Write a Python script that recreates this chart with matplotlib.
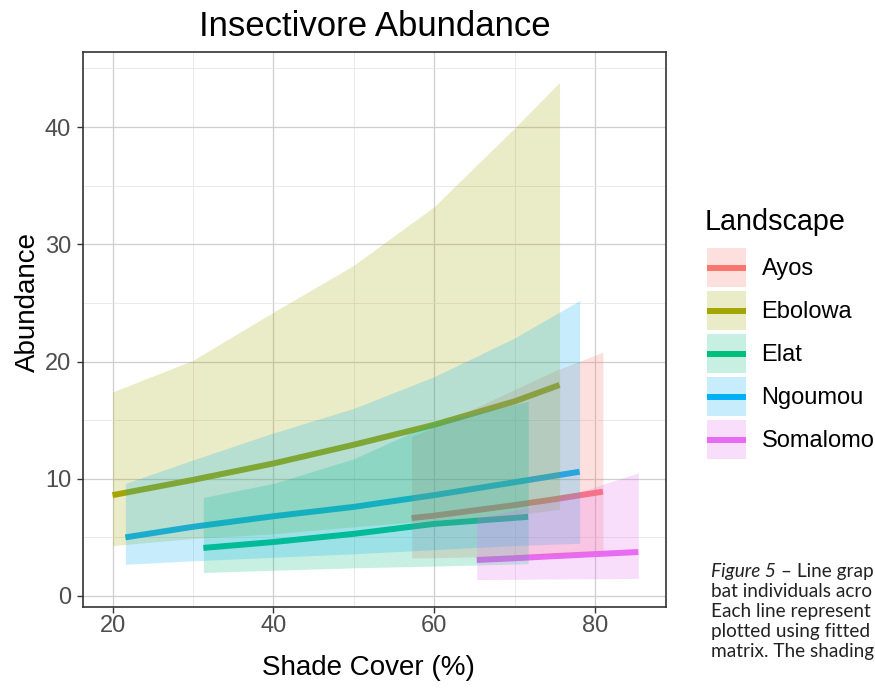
import matplotlib
matplotlib.use("Agg")
import matplotlib.pyplot as plt
from matplotlib.lines import Line2D
from matplotlib.patches import Rectangle
from matplotlib.legend_handler import HandlerBase
from matplotlib.ticker import MultipleLocator

plt.rcParams['font.family'] = ['Liberation Sans', 'DejaVu Sans']

landscapes = ['Ayos', 'Ebolowa', 'Elat', 'Ngoumou', 'Somalomo']
colours = ['#F8766D', '#A3A500', '#00BF7D', '#00B0F6', '#E76BF3']

# shade cover (%), fitted abundance and the lower / upper bounds of the shading
ayos_x = [57.2, 60, 65, 70, 75, 81.0]
ayos_fit = [6.65, 6.85, 7.3, 7.75, 8.25, 8.9]
ayos_lo = [3.25, 3.26, 3.33, 3.41, 3.54, 3.81]
ayos_hi = [13.6, 14.4, 16.0, 17.6, 19.2, 20.8]

ebolowa_x = [20, 30, 40, 50, 60, 70, 75.6]
ebolowa_fit = [8.6, 9.9, 11.3, 12.9, 14.6, 16.6, 18.0]
ebolowa_lo = [4.3, 4.9, 5.3, 5.9, 6.45, 6.9, 7.4]
ebolowa_hi = [17.4, 20.1, 24.2, 28.2, 33.2, 39.9, 43.8]

elat_x = [31.3, 40, 50, 60, 71.7]
elat_fit = [4.1, 4.6, 5.3, 6.15, 6.75]
elat_lo = [2.0, 2.2, 2.4, 2.55, 2.75]
elat_hi = [8.4, 9.6, 11.7, 14.8, 16.6]

ngoumou_x = [21.6, 30, 40, 50, 60, 70, 78.1]
ngoumou_fit = [5.0, 5.9, 6.8, 7.6, 8.6, 9.7, 10.6]
ngoumou_lo = [2.7, 3.0, 3.3, 3.6, 3.95, 4.3, 4.5]
ngoumou_hi = [9.6, 11.6, 13.9, 16.0, 18.7, 22.0, 25.2]

somalomo_x = [65.3, 70, 75, 80, 85.4]
somalomo_fit = [3.07, 3.22, 3.4, 3.57, 3.75]
somalomo_lo = [1.4, 1.42, 1.45, 1.47, 1.5]
somalomo_hi = [6.7, 7.3, 8.2, 9.3, 10.5]

series = [
    (ayos_x, ayos_fit, ayos_lo, ayos_hi),
    (ebolowa_x, ebolowa_fit, ebolowa_lo, ebolowa_hi),
    (elat_x, elat_fit, elat_lo, elat_hi),
    (ngoumou_x, ngoumou_fit, ngoumou_lo, ngoumou_hi),
    (somalomo_x, somalomo_fit, somalomo_lo, somalomo_hi),
]

ribbon_alpha = 0.22
line_w = 4.3


class RibbonKey(HandlerBase):
    # legend key: pale ribbon square with the line across its middle
    def create_artists(self, legend, orig_handle, xdescent, ydescent,
                       width, height, fontsize, trans):
        col = orig_handle.get_color()
        box = Rectangle((-xdescent, -ydescent), width, height, facecolor=col,
                        alpha=ribbon_alpha, edgecolor='none', transform=trans)
        ymid = -ydescent + height / 2
        ln = Line2D([-xdescent, -xdescent + width], [ymid, ymid], color=col,
                    lw=line_w, solid_capstyle='butt', transform=trans)
        return [box, ln]


W, H = 875, 688
fig = plt.figure(figsize=(W / 100, H / 100), dpi=100)
ax = fig.add_axes([83 / W, 1 - 607 / H, (666 - 83) / W, (607 - 52) / H])

# lines first, ribbons on top of them
for (x, fit, lo, hi), col in zip(series, colours):
    ax.plot(x, fit, color=col, lw=line_w, solid_capstyle='butt', zorder=2)
for (x, fit, lo, hi), col in zip(series, colours):
    ax.fill_between(x, lo, hi, color=col, alpha=ribbon_alpha, lw=0, zorder=3)

ax.set_xlim(16.33, 88.84)
ax.set_ylim(-0.94, 46.4)
ax.xaxis.set_major_locator(MultipleLocator(20))
ax.xaxis.set_minor_locator(MultipleLocator(10))
ax.yaxis.set_major_locator(MultipleLocator(10))
ax.yaxis.set_minor_locator(MultipleLocator(5))

ax.set_axisbelow(True)
ax.grid(which='major', color='#cfcfcf', lw=0.9)
ax.grid(which='minor', color='#e6e6e6', lw=0.6)
ax.tick_params(which='major', length=4.5, width=1, color='#333333',
               labelcolor='#4d4d4d', labelsize=17)
ax.tick_params(axis='x', pad=1)
ax.tick_params(axis='y', pad=4)
ax.tick_params(which='minor', length=0)
for sp in ax.spines.values():
    sp.set_color('#333333')
    sp.set_linewidth(1.2)

fig.text(374.5 / W, 1 - 27 / H, 'Insectivore Abundance', fontsize=25,
         ha='center', va='center')
fig.text(368 / W, 1 - 668 / H, 'Shade Cover (%)', fontsize=20,
         ha='center', va='center')
fig.text(28 / W, 1 - 302 / H, 'Abundance', fontsize=20, rotation=90,
         ha='center', va='center')

fig.text(705 / W, 1 - 222 / H, 'Landscape', fontsize=20.7, va='center')
handles = [Line2D([], [], color=c) for c in colours]
fig.legend(handles, landscapes, loc='upper left',
           bbox_to_anchor=(707 / W, 1 - 248 / H), frameon=False,
           fontsize=17, borderpad=0, borderaxespad=0,
           handlelength=1.66, handleheight=2.18,
           handletextpad=0.65, labelspacing=0.16,
           handler_map={Line2D: RibbonKey()})

# figure caption beside the chart
caption = [('Figure 5', ' \u2013 Line grap'), ('', 'bat individuals acro'),
           ('', 'Each line represent'), ('', 'plotted using fitted'),
           ('', 'matrix. The shading')]
cap_size = 13.7
for i, (ital, rest) in enumerate(caption):
    y = 1 - (577 + 20 * i) / H
    if ital:
        t = fig.text(711 / W, y, ital, family='Lato', style='italic',
                     fontsize=cap_size, va='baseline', color='#222222')
        ax.annotate(rest, xy=(1, 0), xycoords=t, va='bottom', ha='left',
                    family='Lato', fontsize=cap_size, color='#222222',
                    annotation_clip=False)
    else:
        fig.text(711 / W, y, rest, family='Lato', fontsize=cap_size,
                 va='baseline', color='#222222')

fig.savefig('out.png', dpi=100)
